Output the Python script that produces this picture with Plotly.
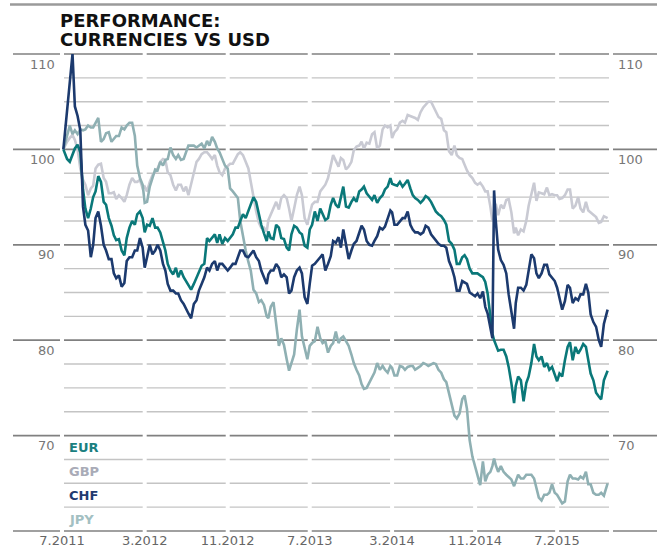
import plotly.graph_objects as go
import pandas as pd

# ---------------- data ----------------
# sampling dates: 1st, 8th, 16th, 24th of each month (with a few exceptions)
months = [str(p) for p in pd.period_range("2011-07", "2015-11", freq="M")]
default_days = [1, 8, 16, 24]
special_days = {"2011-07": [5, 16, 24], "2014-12": [1, 8, 16, 22, 27], "2015-11": [1, 8, 16, 27]}
dates = []
for m in months:
    for d in special_days.get(m, default_days):
        dates.append(f"{m}-{d:02d}")

# one row per month (values indexed to 100 at start, vs USD)
chf = [
    100, 104, 107.5,
    110, 104.5, 103.5, 102,
    94, 92.1, 91.5, 88.7,
    90, 92.8, 93.5, 92,
    90, 89.4, 88.5, 88.5,
    87, 86.5, 86.8, 85.6,
    86, 88.3, 88.7, 88.7,
    89.4, 89.4, 90.7, 89.7,
    87.6, 88.7, 90, 89,
    89.4, 90, 89.4, 88,
    87.3, 85.9, 85.2, 85.2,
    84.9, 84.9, 84.2, 83.8,
    83.2, 82.8, 82.3, 83.8,
    84.2, 85.2, 85.9, 86.6,
    87.6, 87.3, 88, 88.3,
    87.3, 88, 88, 87.6,
    87.3, 87.6, 88, 88,
    88.7, 89.4, 89.4, 88.8,
    88.7, 89, 89.4, 88.7,
    88.3, 87.3, 86.6, 85.9,
    86.9, 87.3, 87.3, 88,
    87.6, 86.6, 86.9, 86.6,
    84.9, 85.2, 86.6, 87.3,
    87.6, 87, 84.5, 83.8,
    85.9, 87.8, 88, 88.3,
    88.7, 89, 87.3, 88,
    88.8, 90.4, 90.2, 90.8,
    89.7, 91.6, 89.9, 88.5,
    89.4, 90.1, 90.4, 91.2,
    92, 91.6, 90.4, 90,
    89.9, 90.4, 90.9, 91.8,
    91.6, 91.9, 92.8, 93.6,
    93.4, 92.1, 92.1, 92.5,
    92.8, 92.8, 93.5, 92.1,
    91.6, 91.3, 91.3, 91.1,
    91.3, 92, 91.8, 91.1,
    90.8, 90.4, 90.1, 89.9,
    89.9, 89.7, 88.3, 87.6,
    86.6, 85.2, 85.2, 86.2,
    86, 85.9, 85, 84.8,
    84.6, 84.9, 84.4, 85.1,
    83.5, 82.8, 81.2, 80.2, 95.7,
    92.5, 89.5, 88.4, 87.9,
    87, 84.8, 83, 81.2,
    83.9, 85.5, 85.5, 85.2,
    85.8, 87.2, 89, 88.6,
    87, 86.5, 87, 87.9,
    87.9, 86.9, 86.5, 86.2,
    85.5, 84.3, 83.2, 84.1,
    85.8, 85.5, 83.9, 84.4,
    84.2, 84.8, 84.8, 85.9,
    85, 82.7, 81.9, 81.4,
    80, 79.3, 81.7, 83.2,
]

eur = [
    100, 99, 98.7,
    99.5, 100.1, 100.5, 99.7,
    95.8, 93.8, 92.8, 93.8,
    95, 95.6, 97.2, 96.6,
    94.5, 94.2, 92.8, 92,
    91, 90.5, 90.6, 89.4,
    88.9, 90.7, 91.8, 92.5,
    92.1, 93.2, 93.5, 92.8,
    91.3, 92.1, 92, 92.8,
    91.8, 91.8, 91.3, 90.4,
    89.4, 88, 87.3, 86.9,
    87.6, 86.6, 87.3, 86.6,
    86.2, 85.9, 85.3, 85.9,
    86.6, 87.3, 87.8, 88,
    90.7, 90.4, 90.7, 91.1,
    90.2, 91.1, 90.1, 90.7,
    90.4, 90.7, 91.1, 91.8,
    91.8, 92.5, 93.2, 92.8,
    93.5, 94.2, 95, 94.5,
    93.2, 92.1, 91.2, 90.4,
    91.4, 90.7, 90.6, 92.1,
    91.8, 90.7, 90.6, 89.7,
    89.4, 91.1, 92, 91.8,
    91.3, 91.1, 89.9, 89.7,
    91.6, 92.1, 93.5, 92.5,
    93.8, 93.2, 92.6, 92.8,
    94.2, 94.9, 94.2, 93.9,
    94.9, 96.1, 94, 93.9,
    94.5, 94.9, 94.5, 95.6,
    95.8, 96.1, 95.4, 95.1,
    94.7, 95.2, 94.4, 94.9,
    95.2, 95.8, 96.1, 97,
    96.4, 96.3, 96.2, 96.6,
    96.1, 96.4, 96.8, 95.9,
    95.2, 94.9, 94.7, 94.4,
    94.7, 95.1, 94.9, 94.5,
    93.9, 93.5, 93.2, 93,
    92.6, 92.1, 90.4, 90.1,
    89.5, 88, 88, 88.7,
    88.9, 88.5, 87.5, 87,
    87, 87, 86.8, 86.6,
    86.1, 84.9, 82.5, 80.7, 80,
    79.6, 78.9, 79, 79,
    78.3, 77.2, 75.5, 73.4,
    75.2, 76.2, 75.8, 73.6,
    75.5, 76.2, 77.6, 79.6,
    78.3, 77.9, 78.3, 77.2,
    77.6, 76.9, 77.2, 76.5,
    75.7, 76.5, 76.2, 77.9,
    79.3, 79.8, 77.9, 79.3,
    78.6, 79, 79.6, 79.3,
    77.9, 76.5, 75.8, 74.5,
    74.1, 73.8, 75.8, 76.8,
]

gbp = [
    100, 100.8, 101.2,
    101.5, 101, 100, 98,
    96.8, 96.3, 95.2, 95.9,
    96.2, 98, 98.4, 98.5,
    97, 96.6, 95.4, 95.4,
    95.5, 94.8, 95.2, 94.9,
    94.5, 95.2, 96.3, 97,
    96.6, 96.6, 96.8, 95.9,
    96.1, 95.6, 96.6, 97.3,
    97.6, 98, 98.7, 99,
    98.9, 97.6, 97.3, 96.3,
    95.7, 96.3, 96.3, 95.6,
    96.1, 95.2, 96.3, 97.6,
    98.7, 99, 99.5, 99.7,
    99.7, 99.4, 99, 99.4,
    98.3, 97.6, 97.3, 98,
    98.3, 98.5, 98.5, 99,
    99.5, 99.7, 99.4, 98.7,
    98, 96.6, 94.9, 93.5,
    92.3, 91.8, 91.8, 91.4,
    92.6, 93.2, 93.8, 94.5,
    93.7, 94.9, 95.2, 94.9,
    93.8, 92.5, 93.8, 95.2,
    96.1, 95.2, 92.8, 92.1,
    93.2, 94.2, 94.5, 94.5,
    95.6, 95.9, 96.3, 97,
    98.2, 99.4, 98.8, 98.2,
    99.1, 98.9, 97.9, 98.2,
    98.7, 99.9, 100.3, 100.4,
    100.8, 100.1, 100.7, 100.6,
    101.6, 101.8, 100.1, 100.4,
    102.1, 102.5, 102.3, 102.5,
    101.2, 101.8, 102.1, 102.8,
    103, 102.8, 103.6, 103.5,
    103.4, 103.3, 103.1, 103.9,
    104.4, 104.7, 105, 105,
    104.5, 104, 103.4, 103.2,
    102, 101.8, 99.8, 99.4,
    100.4, 99.4, 99.1, 99,
    98.3, 97.8, 97.3, 97,
    96.5, 96.3, 96.5, 96.1,
    95.6, 95.6, 94, 92.5, 92.8,
    94.3, 93.1, 94.2, 93.8,
    94.7, 94.8, 93.4, 91.2,
    91.8, 91, 91.6, 91.4,
    92.5, 94.1, 95.2, 96.5,
    94.6, 95.5, 95.4, 95.3,
    96, 95.2, 95.3, 95.2,
    95.2, 94.8, 94.9, 95.2,
    95.8, 95.8, 93.8, 94.1,
    95, 93.8, 93.4, 94.5,
    93.6, 93.4, 93.2, 92.9,
    92.3, 92.4, 93, 92.8,
]

jpy = [
    100, 101.4, 102.5,
    101.6, 102, 101.6, 102.1,
    102, 102.1, 102.5, 102.3,
    102.3, 102.8, 103.3, 100.8,
    101.1, 101.7, 101.8, 100.8,
    101.1, 101.4, 101.4, 102.3,
    102.1, 102.5, 102.8, 102.8,
    101.4, 98.3, 97, 96.3,
    94.4, 94.5, 96.1, 97,
    97.9, 97.8, 98.7, 98.3,
    98.9, 99, 100.2, 99.4,
    99, 99.4, 98.9, 99,
    99.7, 100.4, 100.4, 100.4,
    100.2, 100.4, 100.6, 100.1,
    100.9, 100.4, 101.3, 100.8,
    100.1, 99.7, 99, 98.3,
    98, 95.9, 95.6, 95.2,
    94.9, 92.5, 90.9, 89.4,
    88.2, 87.3, 85.3, 84.9,
    84, 84.2, 83.7, 82.5,
    82.3, 83.5, 84, 81.5,
    79.4, 80.2, 79.5, 78,
    76.8, 77.6, 78.5, 81.1,
    83.2, 80.4, 79.2, 78,
    79.4, 79.7, 79.9, 81.4,
    80.2, 79.7, 79.9, 78.7,
    79.4, 79.7, 80.9, 79.7,
    80.2, 80.4, 79.9, 79.4,
    78.5, 77.6, 76.9, 76.3,
    75.4, 74.9, 75, 75.6,
    76.1, 76.6, 77.6, 76.9,
    77.3, 76.9, 76.6, 77.3,
    77.1, 76.3, 76.3, 77.3,
    77.2, 76.9, 77.2, 77.3,
    77.3, 76.9, 77.1, 77.3,
    77.6, 77.5, 77.3, 77.5,
    77.6, 77.5, 76.9, 76.6,
    75.9, 75.6, 74.4, 73.1,
    72.1, 71.8, 72.3, 73.8,
    74.2, 72.8, 69.5, 67.8,
    66.8, 65.9, 64.8, 67.3,
    65.2, 65.9, 66.2, 66.8, 67.6,
    66.9, 66.2, 66.8, 66.2,
    65.9, 65.7, 65.4, 64.7,
    65.2, 65.9, 65.5, 65.5,
    65.9, 65.9, 65.9, 65.5,
    64.5, 63.5, 63.2, 63.8,
    63.8, 64, 64.9, 64,
    63.8, 63.3, 62.9, 63.1,
    65.2, 65.9, 65.5, 65.5,
    65.4, 65.7, 65.5, 66.2,
    64.9, 64.9, 64, 63.8,
    63.8, 64, 63.7, 65,
]

for s in (chf, eur, gbp, jpy):
    assert len(s) == len(dates), (len(s), len(dates))

series_names = ["GBP", "JPY", "EUR", "CHF"]          # drawing order
series_values = {"EUR": eur, "GBP": gbp, "CHF": chf, "JPY": jpy}
legend_order = ["EUR", "GBP", "CHF", "JPY"]

tick_dates = ["2011-07-01", "2012-03-01", "2012-11-01", "2013-07-01",
              "2014-03-01", "2014-11-01", "2015-07-01"]
tick_labels = ["7.2011", "3.2012", "11.2012", "7.2013", "3.2014", "11.2014", "7.2015"]
y_major = [60, 70, 80, 90, 100, 110]
y_minor = [62.5, 65, 67.5, 72.5, 75, 77.5, 82.5, 85, 87.5,
           92.5, 95, 97.5, 102.5, 105, 107.5]
y_labels = [70, 80, 90, 100, 110]

# ---------------- style ----------------
line_colors = {"EUR": "#0a7879", "GBP": "#c9cad3", "CHF": "#1c3a6e", "JPY": "#8fb0b3"}
text_colors = {"EUR": "#1a7f80", "GBP": "#a9abb7", "CHF": "#1f3a70", "JPY": "#a3c0c2"}

W, H = 665, 560
ML, MR, MT, MB = 62, 54, 54, 23
PW = W - ML - MR
PH = H - MT - MB
x_start, x_end = pd.Timestamp("2011-07-01"), pd.Timestamp("2015-12-07")
y_lo, y_hi = 60, 110


def px_x(p):
    return (p - ML) / PW


def px_y(p):
    return (H - MB - p) / PH


def date_x(d):
    return (pd.Timestamp(d) - x_start) / (x_end - x_start)


def val_y(v):
    return (v - y_lo) / (y_hi - y_lo)


fig = go.Figure()
for name in series_names:
    fig.add_trace(go.Scatter(
        x=dates, y=series_values[name], mode="lines", name=name,
        line=dict(color=line_colors[name], width=2.6),
        showlegend=False, hoverinfo="skip",
    ))

shapes = []
# top rule
shapes.append(dict(type="line", xref="paper", yref="paper",
                   x0=px_x(10), x1=px_x(657), y0=px_y(4), y1=px_y(4),
                   line=dict(color="#9a9a9a", width=2.5), layer="below"))
# minor grid
for v in y_minor:
    shapes.append(dict(type="line", xref="paper", yref="paper",
                       x0=0, x1=1, y0=val_y(v), y1=val_y(v),
                       line=dict(color="#c4c4c4", width=1.4), layer="below"))
# major grid (extends into the label columns)
for v in y_major:
    shapes.append(dict(type="line", xref="paper", yref="paper",
                       x0=px_x(13), x1=px_x(657), y0=val_y(v), y1=val_y(v),
                       line=dict(color="#808080", width=1.7), layer="below"))
# white gaps between gridline segments
gap_dates = tick_dates + [str(x_end.date())]
for d in gap_dates:
    cx = date_x(d)
    shapes.append(dict(type="rect", xref="paper", yref="paper",
                       x0=cx - 2 / PW, x1=cx + 2 / PW, y0=-0.02, y1=1.02,
                       fillcolor="white", line=dict(width=0), layer="below"))

annotations = []
title_font = dict(family="DejaVu Sans", size=18, color="#111111")
annotations.append(dict(text="<b>PERFORMANCE:</b>", xref="paper", yref="paper",
                        x=px_x(58), y=px_y(20), xanchor="left", yanchor="middle",
                        showarrow=False, font=title_font))
annotations.append(dict(text="<b>CURRENCIES VS USD</b>", xref="paper", yref="paper",
                        x=px_x(58), y=px_y(39.5), xanchor="left", yanchor="middle",
                        showarrow=False, font=title_font))
axis_font = dict(family="DejaVu Sans", size=13, color="#777777")
for v in y_labels:
    annotations.append(dict(text=str(v), xref="paper", yref="y", x=0, y=v,
                            xanchor="right", yanchor="middle", xshift=-5, yshift=-10,
                            showarrow=False, font=axis_font))
    annotations.append(dict(text=str(v), xref="paper", yref="y", x=1, y=v,
                            xanchor="left", yanchor="middle", xshift=5, yshift=-10,
                            showarrow=False, font=axis_font))
legend_y = [68.75, 66.25, 63.75, 61.25]
for name, ly in zip(legend_order, legend_y):
    annotations.append(dict(text="<b>" + name + "</b>", xref="paper", yref="y",
                            x=0, y=ly, xanchor="left", yanchor="middle", xshift=5,
                            showarrow=False,
                            font=dict(family="DejaVu Sans", size=13, color=text_colors[name])))

fig.update_layout(
    width=W, height=H,
    margin=dict(l=ML, r=MR, t=MT, b=MB, pad=0),
    paper_bgcolor="white", plot_bgcolor="white",
    shapes=shapes, annotations=annotations,
    xaxis=dict(type="date", range=[x_start, x_end], showgrid=False, zeroline=False,
               showline=False, tickmode="array", tickvals=tick_dates, ticktext=tick_labels,
               tickfont=dict(family="DejaVu Sans", size=13, color="#666666"),
               ticks="", fixedrange=True),
    yaxis=dict(range=[y_lo, y_hi], showgrid=False, zeroline=False, showline=False,
               showticklabels=False, ticks="", fixedrange=True),
    showlegend=False,
)

fig.write_html("out.html", config={"displayModeBar": False},
               post_script="document.body.style.margin='0px';")
